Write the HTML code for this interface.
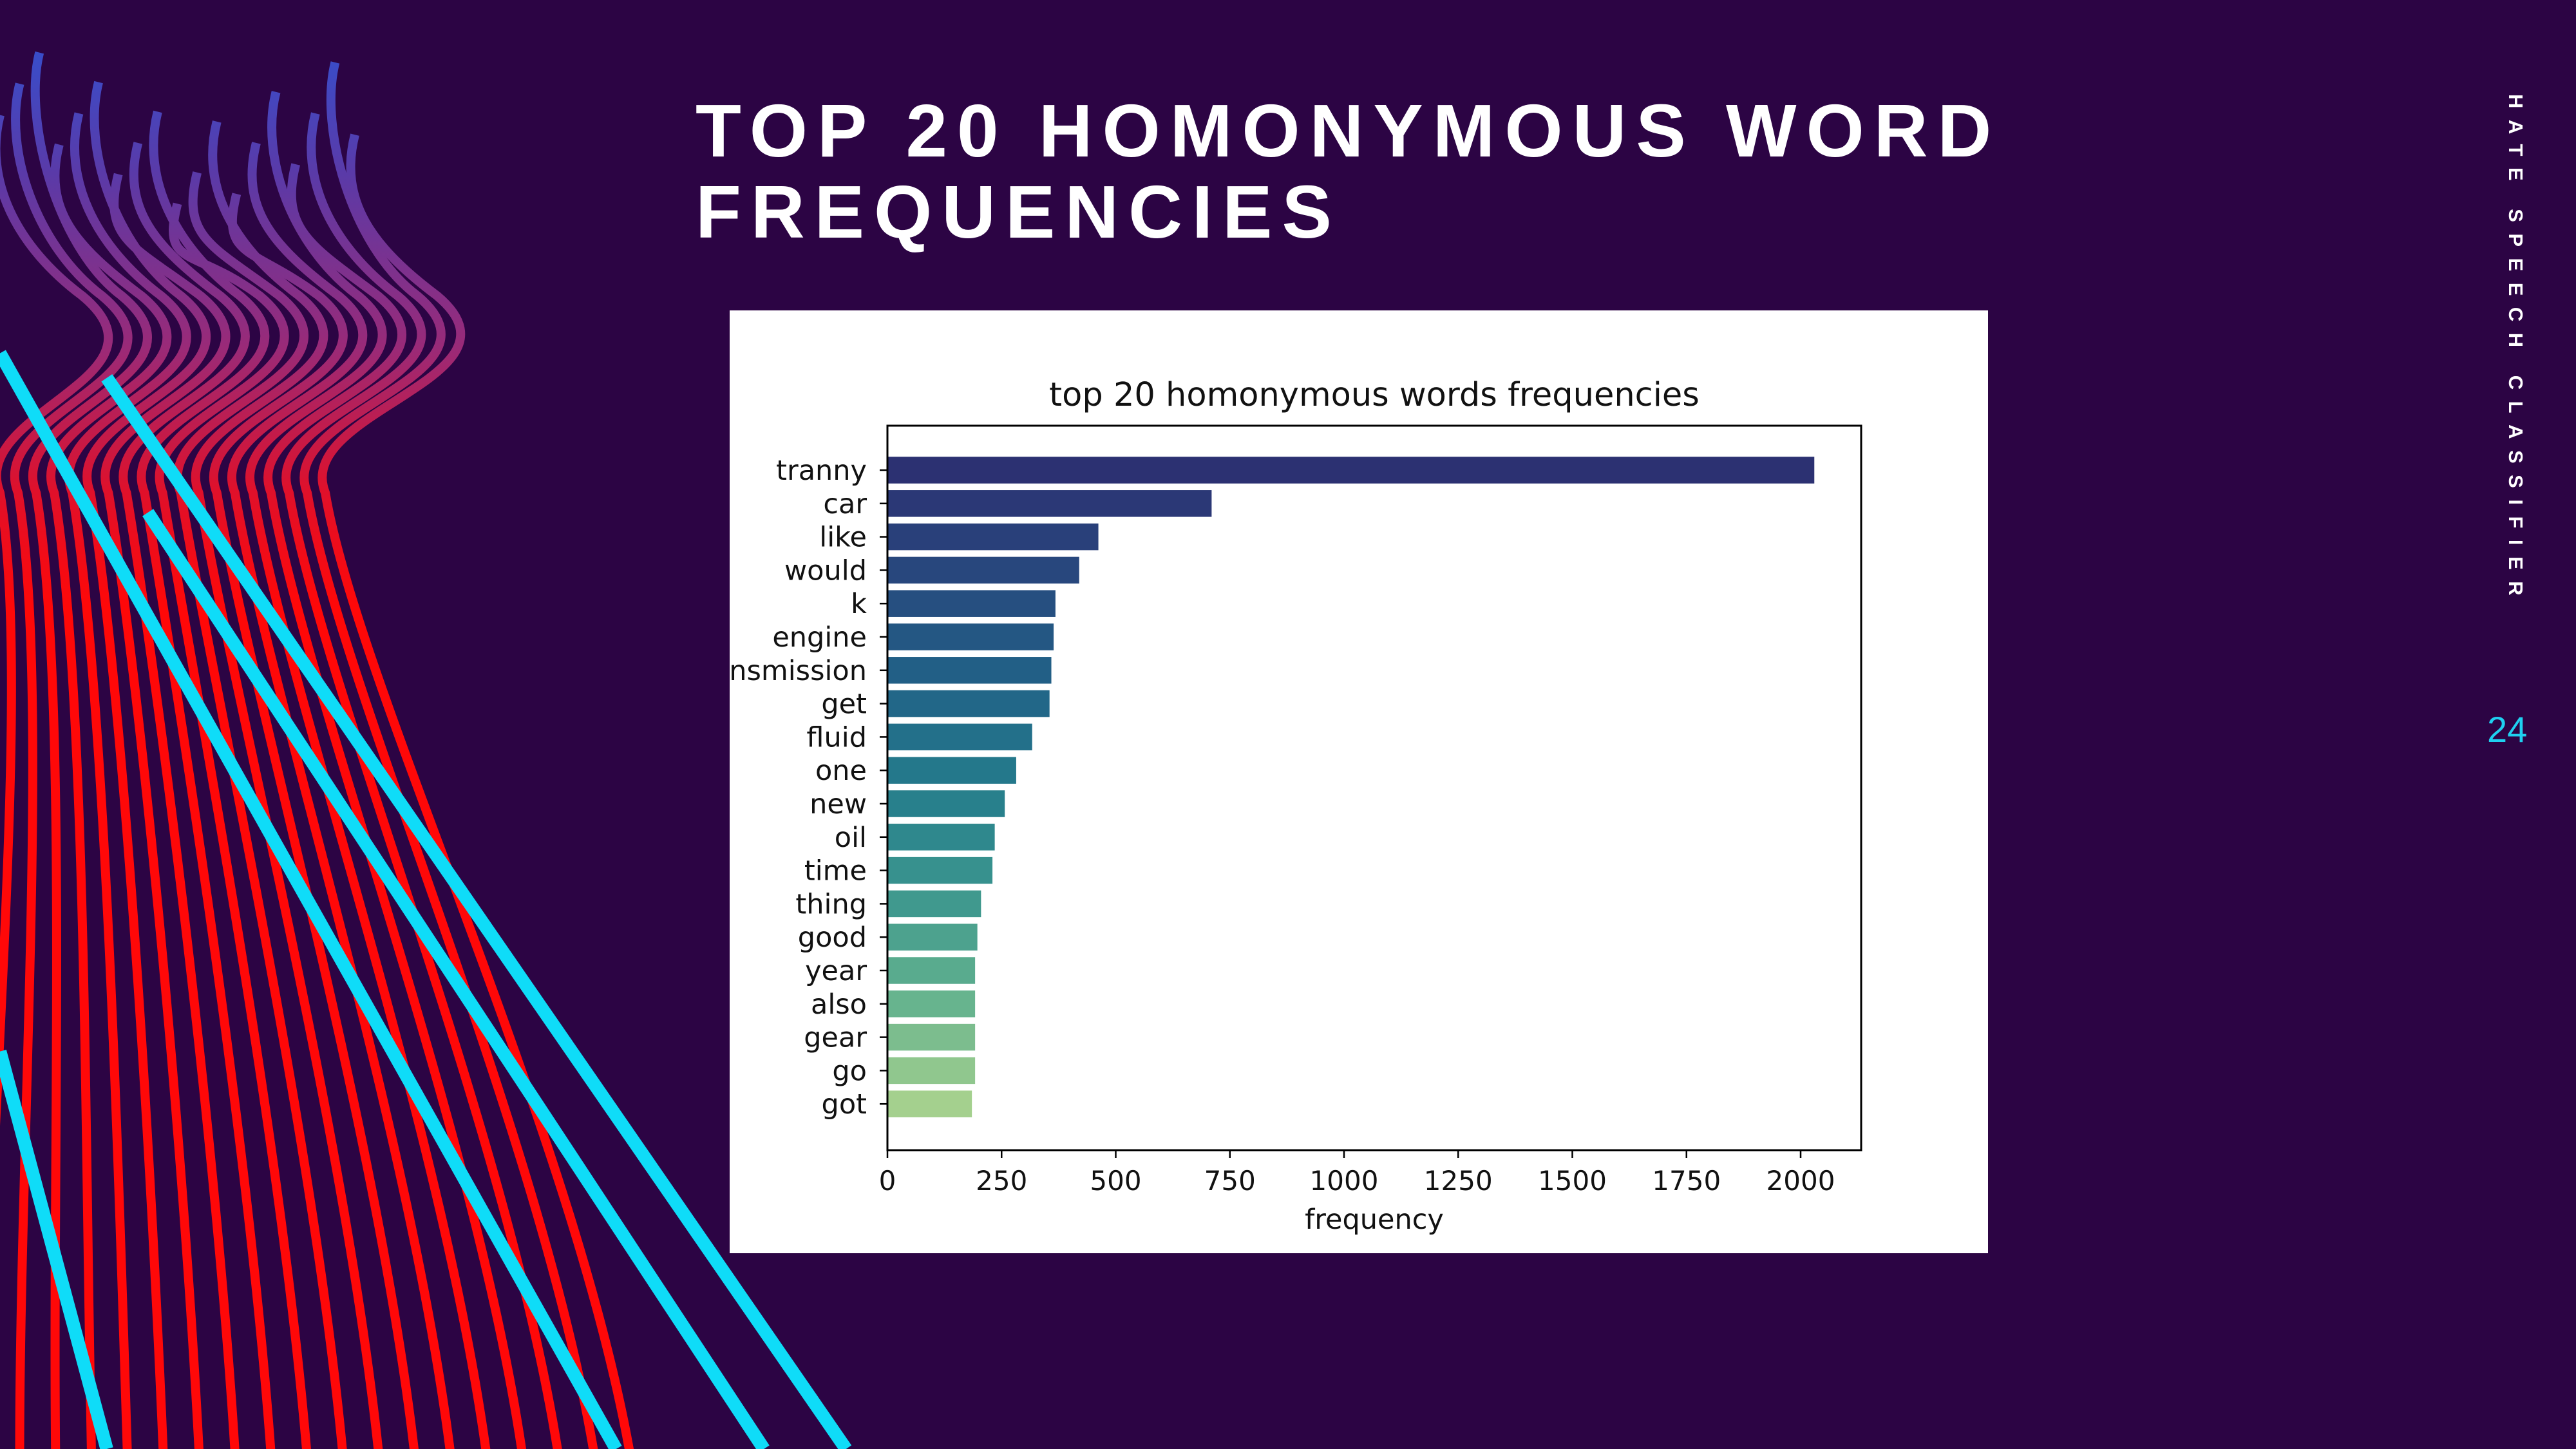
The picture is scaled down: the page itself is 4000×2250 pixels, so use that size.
<!DOCTYPE html>
<html><head><meta charset="utf-8">
<style>
html,body{margin:0;padding:0;background:#2c0444;}
#root{position:relative;width:4000px;height:2250px;overflow:hidden;background:#2c0444;font-family:"Liberation Sans",sans-serif;}
#deco{position:absolute;left:0;top:0;}
#title{position:absolute;left:1080px;top:140px;color:#fff;font-weight:bold;font-size:116px;line-height:126px;letter-spacing:15px;margin:0;}
#side{position:absolute;left:3888px;top:146px;writing-mode:vertical-rl;color:#fff;font-weight:bold;font-size:31px;letter-spacing:17.5px;}
#pagenum{position:absolute;left:3862px;top:1100px;color:#1fd0f0;font-size:56px;}
#card{position:absolute;left:1133px;top:482px;width:1954px;height:1464px;background:#fff;}
</style></head>
<body>
<div id="root">
<svg id="deco" width="4000" height="2250" viewBox="0 0 1568 882">
<defs>
<linearGradient id="wg" gradientUnits="userSpaceOnUse" x1="0" y1="0" x2="0" y2="882">
<stop offset="0" stop-color="#2a55d8"/>
<stop offset="0.12" stop-color="#5a3aa8"/>
<stop offset="0.24" stop-color="#9a2a78"/>
<stop offset="0.34" stop-color="#e0102a"/>
<stop offset="0.42" stop-color="#ff0808"/>
<stop offset="1" stop-color="#ff0808"/>
</linearGradient>
</defs>
<g id="waves" fill="none" stroke="url(#wg)" stroke-width="5.5"></g>
<g fill="none" stroke="#0fdcf8" stroke-width="8" stroke-linecap="butt">
<line x1="65" y1="230" x2="515" y2="882"/>
<line x1="90" y1="312" x2="465" y2="882"/>
<line x1="0" y1="215" x2="375" y2="882"/>
<line x1="0" y1="640" x2="65" y2="882"/>
</g>
</svg>
<script>
(function(){
  var g=document.getElementById('waves');
  for(var i=0;i<19;i++){
    var bx=-10+i*22;
    var mx=-40+i*11;
    var tx=-10+i*12;
    var ty=130-Math.abs(i-10)*6 - (i%3)*25;
    var d='M'+bx+',900 C'+(bx*0.92)+',700 '+(mx+60)+',420 '+(mx+40)+',300 '+
          'C'+(mx+20)+',250 '+(tx+120)+',230 '+(tx+60)+',180 '+
          'C'+(tx+20)+',150 '+tx+','+(ty+40)+' '+(tx+10)+','+ty;
    var p=document.createElementNS('http://www.w3.org/2000/svg','path');
    p.setAttribute('d',d);
    
    
    g.appendChild(p);
  }
})();
</script>
<h1 id="title">TOP 20 HOMONYMOUS WORD<br>FREQUENCIES</h1>
<div id="side">HATE SPEECH CLASSIFIER</div>
<div id="pagenum">24</div>
<div id="card"></div>
<svg id="chart" width="4000" height="2250" style="position:absolute;left:0;top:0"></svg>
<script>
var categories=["tranny","car","like","would","k","engine","nsmission","get","fluid","one","new","oil","time","thing","good","year","also","gear","go","got"];
var values=[2030,710,462,420,368,364,359,355,317,282,257,235,230,205,197,192,192,192,192,185];
var xTicks=[0,250,500,750,1000,1250,1500,1750,2000];
var chartTitle="top 20 homonymous words frequencies";
var xLabel="frequency";

var NS='http://www.w3.org/2000/svg';
var svg=document.getElementById('chart');
var L=1378,R=2890,T=661,B=1786;
var x0=1378,pxPerUnit=(2796-1378)/2000;
function xs(v){return x0+v*pxPerUnit;}
var firstC=730,pitch=51.8,bh=41.5;
function yc(i){return firstC+i*pitch;}
var stops=[[44,49,114],[40,72,126],[33,98,135],[36,124,140],[60,150,142],[100,178,142],[164,208,142]];
function col(i){
  var t=i/(categories.length-1)*(stops.length-1);var k=Math.min(Math.floor(t),stops.length-2);var f=t-k;
  var c=stops[k].map(function(a,j){return Math.round(a+(stops[k+1][j]-a)*f);});
  return 'rgb('+c.join(',')+')';
}
function mk(tag,attrs){var e=document.createElementNS(NS,tag);for(var a in attrs)e.setAttribute(a,attrs[a]);svg.appendChild(e);return e;}
var font='"DejaVu Sans","Liberation Sans",sans-serif';
values.forEach(function(v,i){
  var r=mk('rect',{x:xs(0),y:yc(i)-bh/2,width:xs(v)-xs(0),height:bh,fill:col(i)});
  
  
  var tk=mk('line',{x1:L-12,x2:L,y1:yc(i),y2:yc(i),stroke:'#000','stroke-width':2.5});
  
  
  var t=mk('text',{x:L-32,y:yc(i)+15,'text-anchor':'end','font-family':font,'font-size':43,fill:'#111'});
  t.textContent=categories[i];
  
  
});
var ax=mk('rect',{x:L,y:T,width:R-L,height:B-T,fill:'none',stroke:'#000','stroke-width':3});


xTicks.forEach(function(v){
  var tk=mk('line',{x1:xs(v),x2:xs(v),y1:B,y2:B+12,stroke:'#000','stroke-width':2.5});
  
  
  var t=mk('text',{x:xs(v),y:B+62,'text-anchor':'middle','font-family':font,'font-size':42,fill:'#111'});
  t.textContent=v;
  
  
});
var tt=mk('text',{x:(L+R)/2,y:630,'text-anchor':'middle','font-family':font,'font-size':51,fill:'#111'});
tt.textContent=chartTitle;


var xl=mk('text',{x:(L+R)/2,y:1908,'text-anchor':'middle','font-family':font,'font-size':43,fill:'#111'});
xl.textContent=xLabel;


</script>
</div>
</body></html>
